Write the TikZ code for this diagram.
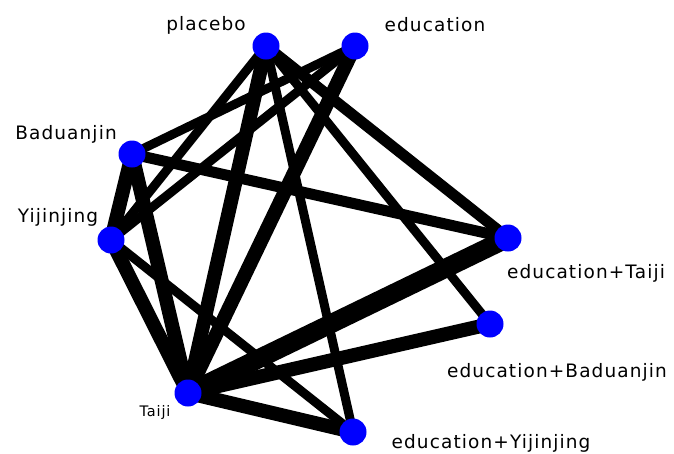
\documentclass[tikz,border=0pt]{standalone}
\usepackage{fontspec}
\setmainfont[LetterSpace=6]{DejaVu Sans}
\usetikzlibrary{backgrounds}
\tikzstyle{trt} = [circle, fill=blue, minimum size=27pt, inner sep=0pt]
\tikzstyle{lbl} = [font=\fontsize{18.5}{20}\selectfont, inner sep=0pt, text=black]
\tikzstyle{thinlink} = [line width=9pt]
\tikzstyle{midlink} = [line width=11pt]
\tikzstyle{thicklink} = [line width=14pt]
\tikzstyle{heavylink} = [line width=19pt]

\begin{document}
\begin{tikzpicture}[x=1pt,y=-1pt]
		\useasboundingbox (0,0) rectangle (674,453);
		% treatments
		\node [trt] (pla) at (266,46) {};
		\node [trt] (edu) at (355,46) {};
		\node [trt] (bad) at (132,154) {};
		\node [trt] (yij) at (111,240) {};
		\node [trt] (et) at (508,238) {};
		\node [trt] (eb) at (490,324) {};
		\node [trt] (tai) at (188,393) {};
		\node [trt] (ey) at (353,432) {};
		
		\node [lbl] (pla_l) at (206,25) {placebo};
		\node [lbl] (edu_l) at (435,25) {education};
		\node [lbl] (bad_l) at (66,134) {Baduanjin};
		\node [lbl] (yij_l) at (58,217) {Yijinjing};
		\node [lbl] (et_l) at (586,273) {education+Taiji};
		\node [lbl] (eb_l) at (557,372) {education+Baduanjin};
		\node [lbl] (ey_l) at (491,443) {education+Yijinjing};
		\node [lbl, font=\fontsize{14.5}{16}\selectfont] (tai_l) at (155,412) {Taiji};
		
		\begin{pgfonlayer}{background}
		\draw [thinlink] (bad.center) -- (edu.center);
		\draw [midlink] (bad.center) -- (et.center);
		\draw [thicklink] (bad.center) -- (yij.center);
		\draw [thicklink] (bad.center) -- (tai.center);
		
		\draw [thinlink] (yij.center) -- (pla.center);
		\draw [thinlink] (yij.center) -- (edu.center);
		\draw [thicklink] (yij.center) -- (tai.center);
		\draw [thinlink] (yij.center) -- (ey.center);
		
		\draw [thicklink] (pla.center) -- (tai.center);
		\draw [thinlink] (pla.center) -- (ey.center);
		\draw [midlink] (pla.center) -- (et.center);
		\draw [thinlink] (pla.center) -- (eb.center);
		
		\draw [thicklink] (edu.center) -- (tai.center);
		\draw [heavylink] (tai.center) -- (et.center);
		\draw [thicklink] (tai.center) -- (eb.center);
		\draw [thicklink] (tai.center) -- (ey.center);
		\end{pgfonlayer}
		
\end{tikzpicture}
\end{document}
